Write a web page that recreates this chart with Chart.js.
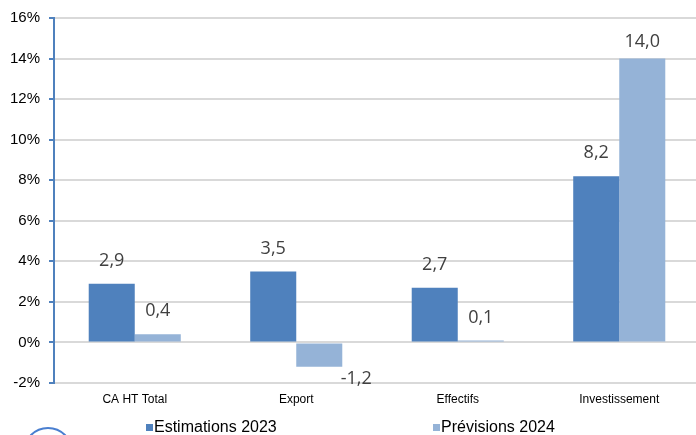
<!DOCTYPE html>
<html lang="fr">
<head>
  <meta charset="UTF-8">
  <title>Estimations 2023 / Prévisions 2024</title>
  <script src="https://cdn.jsdelivr.net/npm/chart.js"></script>
  <style>
    body {
      margin: 0;
      width: 696px;
      height: 435px;
      overflow: hidden;
      background: #fff;
      font-family: 'Liberation Sans', Arial, sans-serif;
      position: relative;
    }
    #wrap {
      position: absolute;
      left: 0;
      top: 0;
      width: 700px;
      height: 435px;
    }
    .legend-item {
      position: absolute;
      top: 418px;
      font-size: 16px;
      color: #000;
      white-space: nowrap;
      line-height: 18px;
    }
    .legend-item span {
      display: inline-block;
      width: 7px;
      height: 7px;
      margin-right: 1px;
      vertical-align: 1px;
    }
    .logo {
      position: absolute;
      left: 23px;
      top: 427px;
      width: 46px;
      height: 46px;
      border: 2px solid #4a7fd0;
      border-radius: 50%;
    }
  </style>
</head>
<body>

  <div id="wrap"><canvas id="chart" width="700" height="435"></canvas></div>
  <div class="logo"></div>
  <div id="legend"></div>

  <script>
    const categories = ["CA HT Total", "Export", "Effectifs", "Investissement"];
    const estimations2023 = [2.9, 3.5, 2.7, 8.2];
    const previsions2024 = [0.4, -1.2, 0.1, 14.0];
    const seriesNames = ["Estimations 2023", "Prévisions 2024"];
    const seriesColors = ["#4f81bd", "#95b3d7"];

    // valeurs au-dessus des barres, format français
    const valueLabels = {
      id: "valueLabels",
      afterDatasetsDraw(chart) {
        const ctx = chart.ctx;
        const area = chart.chartArea;
        ctx.save();
        ctx.font = "18px 'Open Sans'";
        ctx.fillStyle = "#404040";
        ctx.textAlign = "center";
        ctx.textBaseline = "middle";
        chart.data.datasets.forEach((ds, i) => {
          chart.getDatasetMeta(i).data.forEach((bar, j) => {
            const v = ds.data[j];
            const txt = v.toFixed(1).replace(".", ",");
            if (v < 0) {
              ctx.fillText(txt, bar.x + 37, bar.y + 12);
            } else {
              ctx.fillText(txt, bar.x, Math.max(bar.y - 23, area.top + 24));
            }
          });
        });
        ctx.restore();
      }
    };

    new Chart(document.getElementById("chart"), {
      type: "bar",
      data: {
        labels: categories,
        datasets: [
          { label: seriesNames[0], data: estimations2023, backgroundColor: seriesColors[0] },
          { label: seriesNames[1], data: previsions2024, backgroundColor: seriesColors[1] }
        ]
      },
      options: {
        responsive: false,
        animation: false,
        categoryPercentage: 0.57,
        barPercentage: 1,
        layout: { padding: { top: 18, right: 0, bottom: 22, left: 0 } },
        plugins: {
          legend: { display: false },
          tooltip: { enabled: false }
        },
        scales: {
          x: {
            grid: { display: false, drawTicks: false },
            border: { color: "#d9d9d9", width: 2 },
            ticks: {
              color: "#000",
              padding: 9,
              font: { family: "'Liberation Sans', Arial", size: 12 }
            },
            afterFit(scale) { scale.height = 30; }
          },
          y: {
            min: -2,
            max: 16,
            ticks: {
              stepSize: 2,
              color: "#000",
              padding: 9,
              font: { family: "'Liberation Sans', Arial", size: 15 },
              callback: v => v + "%"
            },
            grid: {
              color: "#d9d9d9",
              lineWidth: 2,
              tickColor: "#4f81bd",
              tickLength: 5
            },
            border: { color: "#4f81bd", width: 2 },
            afterFit(scale) { scale.width = 54; }
          }
        }
      },
      plugins: [valueLabels]
    });

    // légende en bas
    const legendLeft = [146, 433];
    const legend = document.getElementById("legend");
    seriesNames.forEach((name, i) => {
      const item = document.createElement("div");
      item.className = "legend-item";
      item.style.left = legendLeft[i] + "px";
      item.innerHTML = `<span style="background:${seriesColors[i]}"></span>${name}`;
      legend.appendChild(item);
    });
  </script>

</body>
</html>
